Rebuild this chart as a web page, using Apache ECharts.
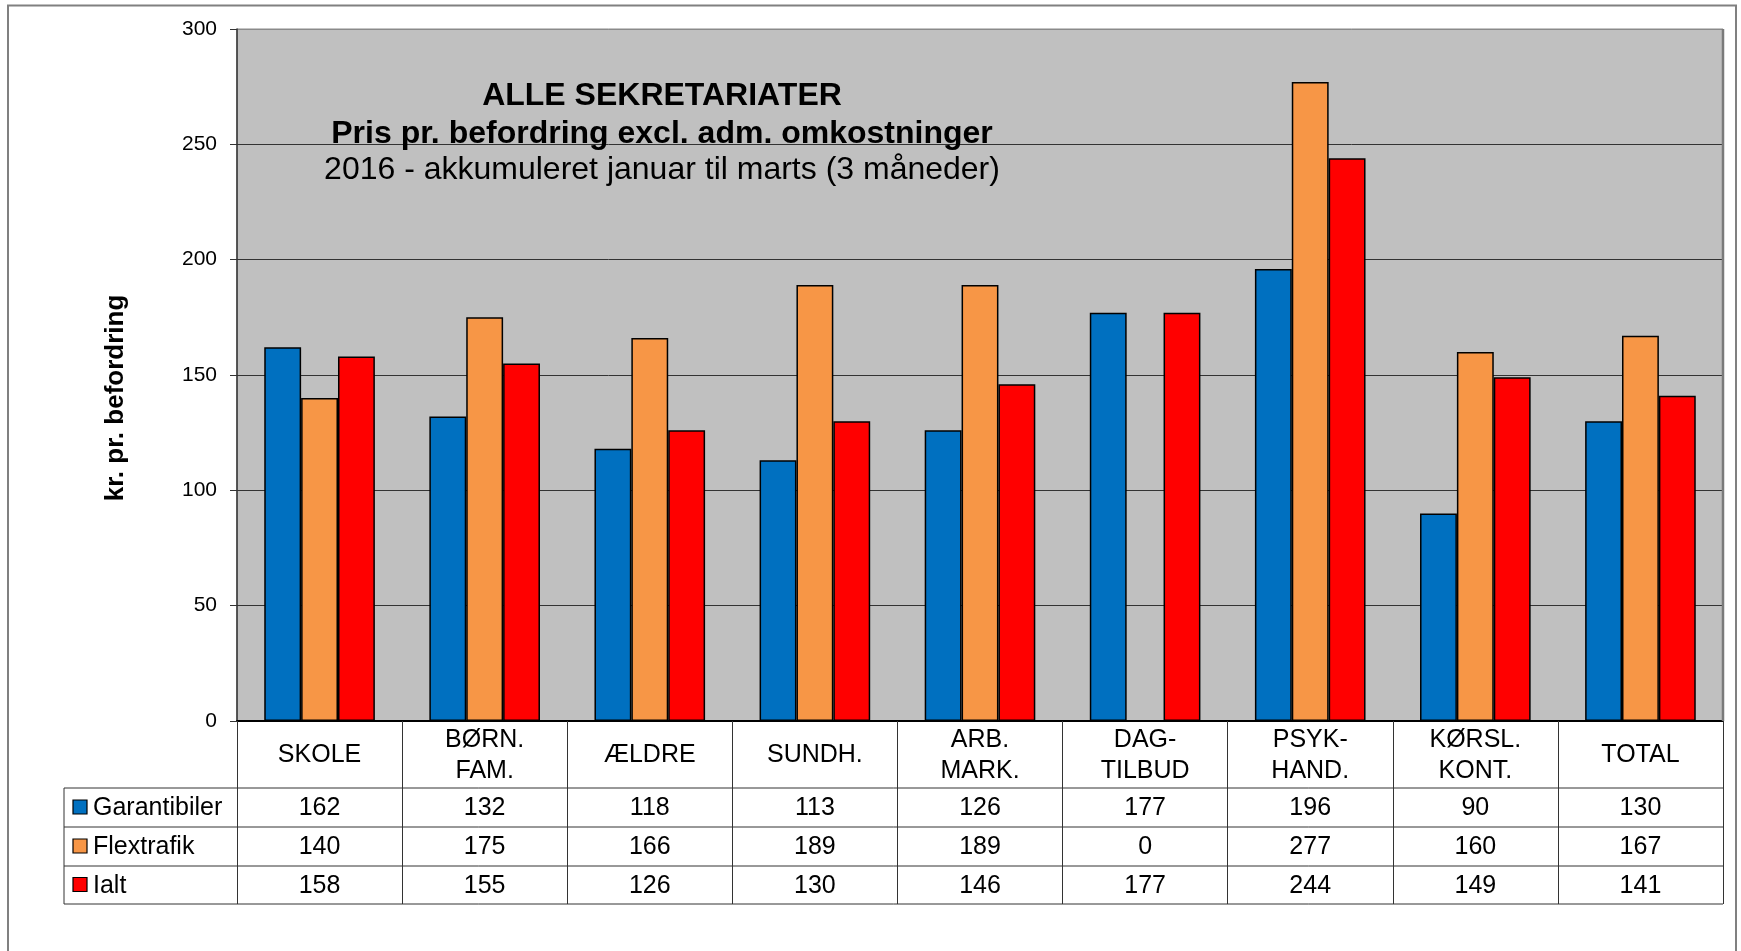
<!DOCTYPE html>
<html>
<head>
<meta charset="utf-8">
<title>Alle sekretariater</title>
<script src="https://cdn.jsdelivr.net/npm/echarts@6/dist/echarts.min.js"></script>
<style>
  html, body { margin: 0; padding: 0; background: #fff; }
  #chart { width: 1741px; height: 951px; }
</style>
</head>
<body>
<div id="chart"></div>
<script>
// data
const categories = ['SKOLE', 'BØRN.\nFAM.', 'ÆLDRE', 'SUNDH.', 'ARB.\nMARK.', 'DAG-\nTILBUD', 'PSYK-\nHAND.', 'KØRSL.\nKONT.', 'TOTAL']
const seriesNames = ['Garantibiler', 'Flextrafik', 'Ialt']
const garantibiler = [162, 132, 118, 113, 126, 177, 196, 90, 130]
const flextrafik = [140, 175, 166, 189, 189, 0, 277, 160, 167]
const ialt = [158, 155, 126, 130, 146, 177, 244, 149, 141]
const yTicks = [0, 50, 100, 150, 200, 250, 300]
const titleLines = ['ALLE SEKRETARIATER', 'Pris pr. befordring excl. adm. omkostninger', '2016 - akkumuleret januar til marts (3 måneder)']
const yName = 'kr. pr. befordring'

const colors = ['#0070C0', '#F79646', '#FF0000']
const FONT = '"Liberation Sans", Arial, sans-serif'

// plot box in px
const W = 1741, H = 951
const plot = { left: 237, top: 29, right: 1723, bottom: 721 }
const rowEdges = [721, 788, 827, 866, 904]
const tableLeft = 64

const chart = echarts.init(document.getElementById('chart'), null, { renderer: 'canvas' })

function buildGraphics() {
  const g = []
  const colW = (plot.right - plot.left) / categories.length
  const line = (x1, y1, x2, y2, stroke, lw) => ({
    type: 'line', silent: true, z: 50,
    shape: { x1, y1, x2, y2 },
    style: { stroke, lineWidth: lw }
  })

  // outer frame
  g.push({ type: 'rect', silent: true, z: 1, shape: { x: 8, y: 5.5, width: 1728, height: 970 },
    style: { fill: 'none', stroke: '#808080', lineWidth: 2 } })

  // plot right edge shadow
  g.push(line(plot.right, plot.top, plot.right, plot.bottom, '#7a7a7a', 2.5))

  // title
  const titleY = [96, 134, 170]
  titleLines.forEach((t, i) => {
    g.push({ type: 'text', silent: true, z: 60, x: 662, y: titleY[i],
      style: { text: t, fill: '#000', align: 'center', verticalAlign: 'middle',
        font: (i < 2 ? 'bold ' : '') + '32px ' + FONT } })
  })

  // y axis name (sits a bit below the axis middle in the reference)
  g.push({ type: 'text', silent: true, z: 60, x: 116, y: 398, rotation: Math.PI / 2,
    style: { text: yName, fill: '#000', align: 'center', verticalAlign: 'middle', font: 'bold 26px ' + FONT } })

  // table horizontal lines
  for (let r = 1; r < rowEdges.length; r++) {
    g.push(line(tableLeft, rowEdges[r], plot.right, rowEdges[r], '#333', 1))
  }
  // left edge of legend column
  g.push(line(tableLeft, rowEdges[1], tableLeft, rowEdges[4], '#333', 1))

  // table rows
  const rows = [garantibiler, flextrafik, ialt]
  rows.forEach((vals, r) => {
    const cy = (rowEdges[r + 1] + rowEdges[r + 2]) / 2
    g.push({ type: 'rect', silent: true, z: 60, shape: { x: 73, y: cy - 7.5, width: 14, height: 14 },
      style: { fill: colors[r], stroke: '#000', lineWidth: 1.2 } })
    g.push({ type: 'text', silent: true, z: 60, x: 93, y: cy + 1,
      style: { text: seriesNames[r], fill: '#000', align: 'left', verticalAlign: 'middle', font: '25px ' + FONT } })
    vals.forEach((v, c) => {
      g.push({ type: 'text', silent: true, z: 60, x: plot.left + colW * (c + 0.5), y: cy + 1,
        style: { text: String(v), fill: '#000', align: 'center', verticalAlign: 'middle', font: '25px ' + FONT } })
    })
  })
  return g
}

const option = {
  animation: false,
  backgroundColor: '#fff',
  grid: {
    left: plot.left, top: plot.top, right: W - plot.right, bottom: H - plot.bottom,
    show: true, backgroundColor: '#C0C0C0', borderColor: '#8a8a8a', borderWidth: 1
  },
  xAxis: {
    type: 'category',
    data: categories,
    axisLine: { lineStyle: { color: '#000', width: 2 } },
    axisTick: { show: true, length: rowEdges[4] - rowEdges[0], interval: 0, lineStyle: { color: '#333', width: 1 } },
    axisLabel: {
      interval: 0, margin: (rowEdges[0] + rowEdges[1]) / 2 - rowEdges[0] + 1,
      verticalAlign: 'middle', align: 'center', lineHeight: 31,
      color: '#000', fontSize: 25, fontFamily: FONT
    }
  },
  yAxis: {
    type: 'value',
    min: yTicks[0], max: yTicks[yTicks.length - 1], interval: yTicks[1] - yTicks[0],
    axisLine: { show: true, lineStyle: { color: '#333', width: 1.5 } },
    axisTick: { show: true, length: 7, lineStyle: { color: '#333' } },
    axisLabel: { margin: 20, color: '#000', fontSize: 21, fontFamily: FONT },
    splitLine: { show: true, lineStyle: { color: ['#8a8a8a', '#333', '#333', '#333', '#333', '#333'], width: 1 } }
  },
  series: [garantibiler, flextrafik, ialt].map((d, i) => ({
    name: seriesNames[i],
    type: 'bar',
    data: d,
    barGap: '0%',
    barCategoryGap: '33%',
    itemStyle: { color: colors[i], borderColor: '#000', borderWidth: 1.5 }
  })),
  graphic: buildGraphics()
}

chart.setOption(option)
</script>
</body>
</html>
